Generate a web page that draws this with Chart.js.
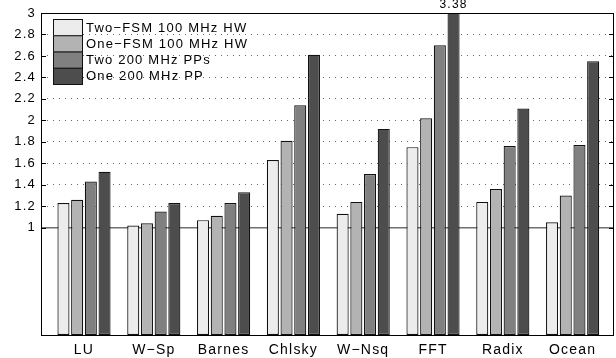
<!DOCTYPE html>
<html>
<head>
<meta charset="utf-8">
<script src="https://cdn.jsdelivr.net/npm/chart.js@4.4.0/dist/chart.umd.min.js"></script>
<style>
  html, body { margin: 0; padding: 0; background: #fff; }
  #chart { display: block; }
</style>
</head>
<body>
<canvas id="chart" width="616" height="358"></canvas>
<script>
// data
var categories = ['LU', 'W\u2212Sp', 'Barnes', 'Chlsky', 'W\u2212Nsq', 'FFT', 'Radix', 'Ocean'];
var seriesNames = ['Two\u2212FSM 100 MHz HW', 'One\u2212FSM 100 MHz HW', 'Two 200 MHz PPs', 'One 200 MHz PP'];
var twoFsmHw = [1.23, 1.02, 1.07, 1.63, 1.13, 1.75, 1.24, 1.05];
var oneFsmHw = [1.26, 1.04, 1.11, 1.81, 1.24, 2.02, 1.36, 1.30];
var twoPPs   = [1.43, 1.15, 1.23, 2.14, 1.50, 2.70, 1.76, 1.77];
var onePP    = [1.52, 1.23, 1.33, 2.61, 1.92, 3.38, 2.11, 2.55];
var yTicks = [1, 1.2, 1.4, 1.6, 1.8, 2, 2.2, 2.4, 2.6, 2.8, 3];

var fills = ['#ececec', '#b3b3b3', '#808080', '#4d4d4d'];
var FONT = 'Liberation Sans';
var SPACING = '1.2px';

Chart.defaults.font.family = FONT;
Chart.defaults.color = '#000';

function toPoints(arr) {
    return arr.map(function(v, i) { return { x: i + 1, y: v }; });
}

var seriesData = [twoFsmHw, oneFsmHw, twoPPs, onePP];
var datasets = seriesData.map(function(arr, k) {
    return {
        label: seriesNames[k],
        data: toPoints(arr),
        backgroundColor: fills[k],
        borderColor: '#111',
        borderWidth: 1.2,
        borderSkipped: false,
        categoryPercentage: 0.785,
        barPercentage: 0.88,
        clip: 0
    };
});

// wider text, like the stretched original
var spacingPlugin = {
    id: 'spacing',
    beforeUpdate: function(chart) { chart.ctx.letterSpacing = SPACING; },
    beforeDraw: function(chart) { chart.ctx.letterSpacing = SPACING; }
};

// box round the axes, inward ticks, value of the clipped bar
var framePlugin = {
    id: 'frame',
    afterDatasetsDraw: function(chart) {
        var ctx = chart.ctx, a = chart.chartArea, y = chart.scales.y;
        ctx.save();
        ctx.strokeStyle = '#000';
        ctx.lineWidth = 1;
        ctx.strokeRect(a.left + 0.5, a.top + 0.5, a.right - a.left - 1, a.bottom - a.top);
        ctx.beginPath();
        yTicks.forEach(function(v) {
            var py = Math.round(y.getPixelForValue(v)) + 0.5;
            ctx.moveTo(a.left, py); ctx.lineTo(a.left + 5, py);
            ctx.moveTo(a.right, py); ctx.lineTo(a.right - 5, py);
        });
        ctx.stroke();

        var bar = chart.getDatasetMeta(3).data[5];
        ctx.fillStyle = '#000';
        ctx.font = '12px ' + FONT;
        ctx.textAlign = 'center';
        ctx.textBaseline = 'middle';
        ctx.fillText(onePP[5].toFixed(2), bar.x, a.top - 8);
        ctx.restore();
    }
};

// legend stacked in the top left corner
var legendPlugin = {
    id: 'boxLegend',
    afterDraw: function(chart) {
        var ctx = chart.ctx, a = chart.chartArea;
        var x0 = a.left + 12, y0 = a.top + 6, w = 29, h = 16.25;
        ctx.save();
        ctx.font = '13px ' + FONT;
        ctx.textAlign = 'left';
        ctx.textBaseline = 'middle';
        seriesNames.forEach(function(name, k) {
            var yy = y0 + k * h;
            ctx.fillStyle = fills[k];
            ctx.fillRect(x0, yy, w, h);
            ctx.strokeStyle = '#111';
            ctx.lineWidth = 1;
            ctx.strokeRect(x0 + 0.5, yy + 0.5, w, h);
            ctx.fillStyle = '#000';
            ctx.fillText(name, x0 + w + 4, yy + h / 2 + 1);
        });
        ctx.restore();
    }
};

var ctx = document.getElementById('chart').getContext('2d');
var chart = new Chart(ctx, {
    type: 'bar',
    data: { datasets: datasets },
    options: {
        responsive: false,
        animation: false,
        layout: { padding: { top: 13, right: 2, left: 0, bottom: 0 } },
        plugins: {
            legend: { display: false },
            tooltip: { enabled: false }
        },
        scales: {
            x: {
                type: 'linear',
                offset: false,
                min: 0.384,
                max: 8.593,
                grid: { display: false, drawTicks: false, offset: false },
                border: { display: false },
                afterBuildTicks: function(scale) {
                    scale.ticks = categories.map(function(c, i) { return { value: i + 1 }; });
                },
                afterFit: function(scale) { scale.height = 23; },
                ticks: {
                    autoSkip: false,
                    maxRotation: 0,
                    padding: 7,
                    font: { size: 14 },
                    callback: function(value) { return categories[Math.round(value) - 1]; }
                }
            },
            y: {
                min: 0,
                max: 3,
                afterBuildTicks: function(scale) {
                    scale.ticks = yTicks.map(function(v) { return { value: v }; });
                },
                afterFit: function(scale) { scale.width = 41; },
                grid: {
                    drawTicks: false,
                    color: function(c) { return c.tick && c.tick.value === 1 ? '#707070' : '#666'; },
                    lineWidth: function(c) { return c.tick && c.tick.value === 1 ? 1.5 : 1; }
                },
                border: {
                    display: false,
                    dash: function(c) { return c.tick && c.tick.value === 1 ? [] : [1, 5]; }
                },
                ticks: {
                    padding: 5,
                    font: { size: 13 },
                    callback: function(value) { return String(value); }
                }
            }
        }
    },
    plugins: [spacingPlugin, framePlugin, legendPlugin]
});
</script>
</body>
</html>
